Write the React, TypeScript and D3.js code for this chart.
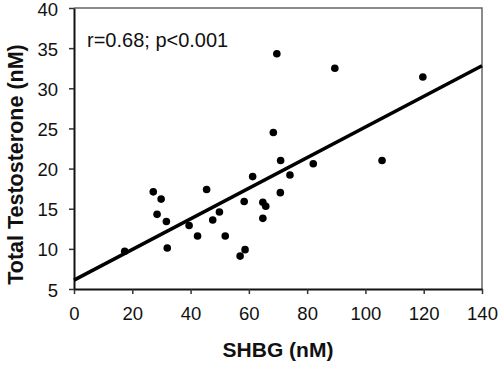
import * as d3 from 'd3';
import React, { useRef, useEffect } from 'react';

// SHBG (nM) vs total testosterone (nM)
const shbg = [17.4, 27.2, 29.9, 28.5, 31.7, 32.0, 39.5, 42.4, 45.5, 47.6, 49.9, 51.9, 57.0, 58.7,
  58.4, 61.3, 64.8, 65.8, 64.8, 70.8, 74.1, 70.9, 82.1, 68.4, 69.6, 89.5, 119.7, 105.7];
const testosterone = [9.7, 17.1, 16.2, 14.3, 13.4, 10.1, 12.9, 11.6, 17.4, 13.6, 14.6, 11.6, 9.1, 9.9,
  15.9, 19.0, 15.8, 15.3, 13.8, 17.0, 19.2, 21.0, 20.6, 24.5, 34.3, 32.5, 31.4, 21.0];

// fitted line
const fitIntercept = 6.1;
const fitSlope = 0.1907;

const xTicks = [0, 20, 40, 60, 80, 100, 120, 140];
const yTicks = [5, 10, 15, 20, 25, 30, 35, 40];
const annotation = 'r=0.68; p<0.001';

const width = 500;
const height = 367;
const margin = { top: 8, right: 18, bottom: 78, left: 74 };

function ScatterChart() {
  const ref = useRef<SVGSVGElement>(null);

  useEffect(() => {
    const svg = d3.select(ref.current);
    svg.selectAll('*').remove();

    const x = d3.scaleLinear().domain([0, 140]).range([margin.left, width - margin.right]);
    const y = d3.scaleLinear().domain([5, 40]).range([height - margin.bottom, margin.top]);

    const font = 'Liberation Sans, Arial, sans-serif';

    // frame top / right
    svg.append('path')
      .attr('d', `M${x(0)},${y(40)}H${x(140)}V${y(5)}`)
      .attr('fill', 'none')
      .attr('stroke', '#666')
      .attr('stroke-width', 1.5);

    // x axis
    const xAxis = svg.append('g')
      .attr('transform', `translate(0,${y(5)})`)
      .call(d3.axisBottom(x).tickValues(xTicks).tickSize(5).tickSizeOuter(0));
    xAxis.select('.domain').attr('stroke', '#111').attr('stroke-width', 2);
    xAxis.selectAll('.tick line').attr('stroke', '#333').attr('stroke-width', 1.5);
    xAxis.selectAll('.tick text')
      .attr('y', 18)
      .attr('dy', '0.71em')
      .attr('fill', '#111')
      .style('font-family', font)
      .style('font-size', '18.5px');

    // y axis
    const yAxis = svg.append('g')
      .attr('transform', `translate(${x(0)},0)`)
      .call(d3.axisLeft(y).tickValues(yTicks).tickSize(5).tickSizeOuter(0));
    yAxis.select('.domain').attr('stroke', '#111').attr('stroke-width', 2);
    yAxis.selectAll('.tick line').attr('stroke', '#333').attr('stroke-width', 1.5);
    yAxis.selectAll('.tick text')
      .attr('x', -16)
      .attr('dy', '0.38em')
      .attr('fill', '#111')
      .style('font-family', font)
      .style('font-size', '18.5px');

    // regression line
    const line = d3.line<number>()
      .x((d) => x(d))
      .y((d) => y(fitIntercept + fitSlope * d));
    svg.append('path')
      .attr('d', line([0, 140]))
      .attr('fill', 'none')
      .attr('stroke', '#000')
      .attr('stroke-width', 3.5);

    // points
    svg.append('g')
      .selectAll('circle')
      .data(shbg)
      .join('circle')
      .attr('cx', (d) => x(d))
      .attr('cy', (d, i) => y(testosterone[i]))
      .attr('r', 3.8)
      .attr('fill', '#000');

    // annotation
    svg.append('text')
      .attr('x', 87)
      .attr('y', 47)
      .attr('fill', '#111')
      .style('font-family', font)
      .style('font-size', '20px')
      .text(annotation);

    // axis titles
    svg.append('text')
      .attr('x', (x(0) + x(140)) / 2)
      .attr('y', 357)
      .attr('text-anchor', 'middle')
      .attr('fill', '#111')
      .style('font-family', font)
      .style('font-weight', 'bold')
      .style('font-size', '21px')
      .text('SHBG (nM)');

    svg.append('text')
      .attr('transform', `translate(23,${(y(5) + y(40)) / 2 + 16}) rotate(-90)`)
      .attr('text-anchor', 'middle')
      .attr('fill', '#111')
      .style('font-family', font)
      .style('font-weight', 'bold')
      .style('font-size', '21.5px')
      .text('Total Testosterone (nM)');
  }, []);

  return (
    <svg
      ref={ref}
      width={width}
      height={height}
      style={{ position: 'absolute', left: 0, top: 0, background: '#fff' }}
    />
  );
}

export default function App() {
  return <ScatterChart />;
}
